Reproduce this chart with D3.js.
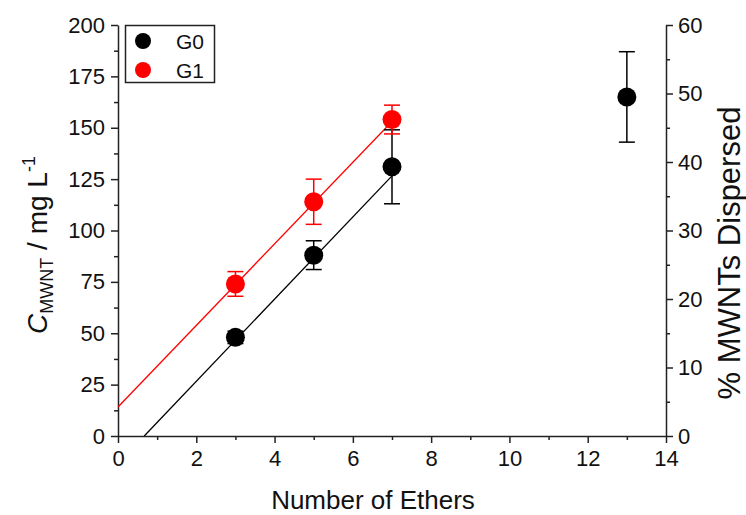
<!DOCTYPE html>
<html>
<head>
<meta charset="utf-8">
<script src="https://cdn.jsdelivr.net/npm/d3@7"></script>
<style>
  html, body { margin: 0; padding: 0; background: #fff; }
  svg { display: block; font-family: Arial, "Liberation Sans", sans-serif; }
</style>
</head>
<body>
<svg id="chart" width="746" height="515"></svg>
<script>
// ---- data ----
const xTicks = [0, 2, 4, 6, 8, 10, 12, 14];
const xMinorTicks = [1, 3, 5, 7, 9, 11, 13];
const yTicks = [0, 25, 50, 75, 100, 125, 150, 175, 200];
const yMinorTicks = [12.5, 37.5, 62.5, 87.5, 112.5, 137.5, 162.5, 187.5];
const y2Ticks = [0, 10, 20, 30, 40, 50, 60];
const y2MinorTicks = [5, 15, 25, 35, 45, 55];

const g0X = [3, 5, 7, 13];
const g0Y = [48, 88, 131, 165];
const g0Err = [3, 7, 18, 22];

const g1X = [3, 5, 7];
const g1Y = [74, 114, 154];
const g1Err = [6, 11, 7];

const fitG0 = [20.0, -13.4, 7];   // slope, intercept, x end
const fitG1 = [19.85, 14.1, 7];

const seriesNames = ["G0", "G1"];
const seriesColors = ["#000000", "#ff0000"];

// ---- layout ----
const svg = d3.select("#chart");
const mLeft = 118, mRight = 666, mTop = 25, mBottom = 436;
const x = d3.scaleLinear().domain([0, 14]).range([mLeft, mRight]);
const y = d3.scaleLinear().domain([0, 200]).range([mBottom, mTop]);
const y2 = d3.scaleLinear().domain([0, 60]).range([mBottom, mTop]);
const axisColor = "#222";

function styleAxis(g) {
  g.selectAll("path.domain").attr("stroke", axisColor).attr("stroke-width", 1.5);
  g.selectAll(".tick line").attr("stroke", axisColor).attr("stroke-width", 1.5);
  g.selectAll(".tick text").attr("fill", "#111").style("font-size", "22px")
    .style("font-family", "Arial, 'Liberation Sans', sans-serif");
}

// bottom axis
const gx = svg.append("g").attr("transform", `translate(0,${mBottom})`)
  .call(d3.axisBottom(x).tickValues(xTicks).tickSize(7).tickSizeOuter(0).tickPadding(7).tickFormat(d3.format("d")));
styleAxis(gx);
const gxm = svg.append("g").attr("transform", `translate(0,${mBottom})`)
  .call(d3.axisBottom(x).tickValues(xMinorTicks).tickSize(4).tickSizeOuter(0).tickFormat(""));
styleAxis(gxm); gxm.select("path.domain").remove();

// left axis
const gy = svg.append("g").attr("transform", `translate(${mLeft},0)`)
  .call(d3.axisLeft(y).tickValues(yTicks).tickSize(7).tickSizeOuter(0).tickPadding(6).tickFormat(d3.format("d")));
styleAxis(gy);
const gym = svg.append("g").attr("transform", `translate(${mLeft},0)`)
  .call(d3.axisLeft(y).tickValues(yMinorTicks).tickSize(4).tickSizeOuter(0).tickFormat(""));
styleAxis(gym); gym.select("path.domain").remove();

// right axis
const gy2 = svg.append("g").attr("transform", `translate(${mRight},0)`)
  .call(d3.axisRight(y2).tickValues(y2Ticks).tickSize(7).tickSizeOuter(0).tickPadding(5).tickFormat(d3.format("d")));
styleAxis(gy2);
const gy2m = svg.append("g").attr("transform", `translate(${mRight},0)`)
  .call(d3.axisRight(y2).tickValues(y2MinorTicks).tickSize(4).tickSizeOuter(0).tickFormat(""));
styleAxis(gy2m); gy2m.select("path.domain").remove();

// fit lines
function fitLine(f, color) {
  const slope = f[0], icpt = f[1], xEnd = f[2];
  const xStart = Math.max(0, -icpt / slope);
  svg.append("line")
    .attr("x1", x(xStart)).attr("y1", y(icpt + slope * xStart))
    .attr("x2", x(xEnd)).attr("y2", y(icpt + slope * xEnd))
    .attr("stroke", color).attr("stroke-width", 1.3);
}
fitLine(fitG0, seriesColors[0]);
fitLine(fitG1, seriesColors[1]);

// error bars + points
function drawSeries(xs, ys, errs, color) {
  const data = xs.map((d, i) => ({ x: d, y: ys[i], e: errs[i] }));
  const g = svg.append("g");
  const cap = 8;
  g.selectAll(".ev").data(data).join("line")
    .attr("x1", d => x(d.x)).attr("x2", d => x(d.x))
    .attr("y1", d => y(d.y - d.e)).attr("y2", d => y(d.y + d.e))
    .attr("stroke", color).attr("stroke-width", 1.5);
  g.selectAll(".ct").data(data).join("line")
    .attr("x1", d => x(d.x) - cap).attr("x2", d => x(d.x) + cap)
    .attr("y1", d => y(d.y + d.e)).attr("y2", d => y(d.y + d.e))
    .attr("stroke", color).attr("stroke-width", 1.5);
  g.selectAll(".cb").data(data).join("line")
    .attr("x1", d => x(d.x) - cap).attr("x2", d => x(d.x) + cap)
    .attr("y1", d => y(d.y - d.e)).attr("y2", d => y(d.y - d.e))
    .attr("stroke", color).attr("stroke-width", 1.5);
  g.selectAll("circle").data(data).join("circle")
    .attr("cx", d => x(d.x)).attr("cy", d => y(d.y)).attr("r", 9.5)
    .attr("fill", color);
}
drawSeries(g0X, g0Y, g0Err, seriesColors[0]);
drawSeries(g1X, g1Y, g1Err, seriesColors[1]);

// legend
const lg = svg.append("g");
lg.append("rect").attr("x", 125.5).attr("y", 25.5).attr("width", 89).attr("height", 57)
  .attr("fill", "#fff").attr("stroke", axisColor).attr("stroke-width", 1.5);
seriesNames.forEach((name, i) => {
  const cy = 41 + i * 29;
  lg.append("circle").attr("cx", 143).attr("cy", cy).attr("r", 8).attr("fill", seriesColors[i]);
  lg.append("text").attr("x", 176).attr("y", cy).attr("dy", "0.36em")
    .style("font-size", "21px").attr("fill", "#111").text(name);
});

// axis titles
svg.append("text").attr("x", 373).attr("y", 509).attr("text-anchor", "middle")
  .style("font-size", "26px").attr("fill", "#111").text("Number of Ethers");

const lt = svg.append("text").attr("transform", "translate(47,245) rotate(-90)")
  .attr("text-anchor", "middle").style("font-size", "28px").attr("fill", "#111");
lt.append("tspan").style("font-style", "italic").text("C");
lt.append("tspan").attr("dy", "6").style("font-size", "18px").text("MWNT");
lt.append("tspan").attr("dy", "-6").text(" / mg L");
lt.append("tspan").attr("dy", "-12").style("font-size", "18px").text("-1");

svg.append("text").attr("transform", "translate(740,253) rotate(-90)")
  .attr("text-anchor", "middle").style("font-size", "31px").attr("fill", "#111")
  .text("% MWNTs Dispersed");
</script>
</body>
</html>
